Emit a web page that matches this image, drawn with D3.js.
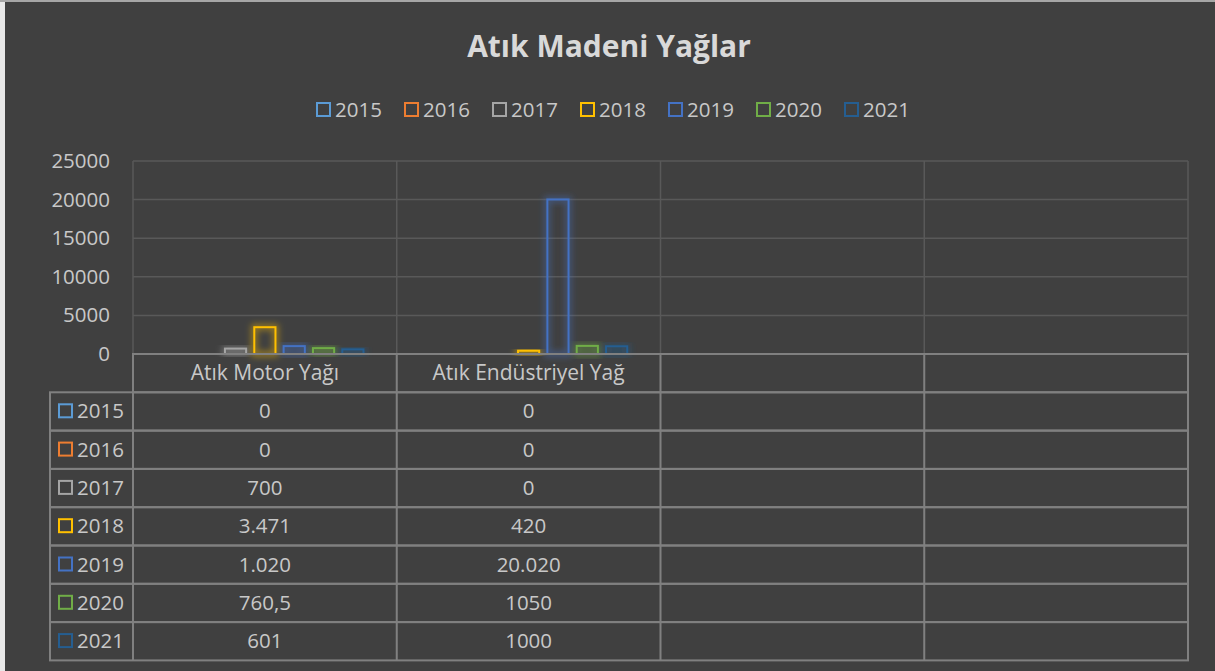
<!DOCTYPE html>
<html>
<head>
<meta charset="utf-8">
<script src="https://cdn.jsdelivr.net/npm/d3@7"></script>
<style>
  body { margin: 0; background: #e6e6e6; }
  svg text { font-family: "Open Sans", sans-serif; }
</style>
</head>
<body>
<svg id="chart" width="1215" height="671"></svg>
<script>
const categories = ["Atık Motor Yağı", "Atık Endüstriyel Yağ", "", ""];
const years = ["2015", "2016", "2017", "2018", "2019", "2020", "2021"];
const colors = ["#5B9BD5", "#ED7D31", "#A5A5A5", "#FFC000", "#4472C4", "#70AD47", "#255E91"];
// values per year, one entry per category
const motorValues = [0, 0, 700, 3471, 1020, 760.5, 601];
const endustriyelValues = [0, 0, 0, 420, 20020, 1050, 1000];
// how the table prints them
const motorLabels = ["0", "0", "700", "3.471", "1.020", "760,5", "601"];
const endustriyelLabels = ["0", "0", "0", "420", "20.020", "1050", "1000"];
const yTicks = [0, 5000, 10000, 15000, 20000, 25000];

const svg = d3.select("#chart");
const textColor = "#c8c8c8";
const gridColor = "#595959";
const tableColor = "#808080";
const fs = 20.5;

svg.append("rect").attr("x", 0).attr("y", 0).attr("width", 1215).attr("height", 671).attr("fill", "#a6a6a6");
svg.append("rect").attr("x", 0).attr("y", 2).attr("width", 5).attr("height", 669).attr("fill", "#e8e8e8");
svg.append("rect").attr("x", 5).attr("y", 2).attr("width", 1210).attr("height", 669).attr("fill", "#404040");

const defs = svg.append("defs");
defs.append("filter").attr("id", "glow")
  .attr("x", "-50%").attr("y", "-50%").attr("width", "200%").attr("height", "200%")
  .append("feGaussianBlur").attr("stdDeviation", 3);

// title
svg.append("text")
  .attr("x", 609).attr("y", 57)
  .attr("text-anchor", "middle")
  .attr("font-size", 30).attr("font-weight", "bold")
  .attr("fill", "#d9d9d9")
  .text("Atık Madeni Yağlar");

// legend
const legend = svg.append("g");
years.forEach(function (yr, i) {
  const lx = 317 + i * 88;
  legend.append("rect")
    .attr("x", lx).attr("y", 103).attr("width", 13).attr("height", 13)
    .attr("fill", "none").attr("stroke", colors[i]).attr("stroke-width", 2);
  legend.append("text")
    .attr("x", lx + 18).attr("y", 117)
    .attr("font-size", fs).attr("fill", textColor)
    .text(yr);
});

const plotLeft = 133, plotRight = 1188, plotTop = 161, plotBottom = 354;
const x0 = d3.scaleBand().domain(d3.range(categories.length)).range([plotLeft, plotRight]).padding(0);
const x1 = d3.scaleBand().domain(years).range([0, x0.bandwidth()]).paddingInner(0.21).paddingOuter(1.1);
const y = d3.scaleLinear().domain([0, 25000]).range([plotBottom, plotTop]);

// gridlines
const grid = svg.append("g");
grid.selectAll("line.h").data(yTicks).enter().append("line")
  .attr("x1", plotLeft).attr("x2", plotRight)
  .attr("y1", d => y(d)).attr("y2", d => y(d))
  .attr("stroke", gridColor).attr("stroke-width", 1.5);
grid.selectAll("line.v").data(d3.range(categories.length + 1)).enter().append("line")
  .attr("x1", d => plotLeft + d * x0.bandwidth()).attr("x2", d => plotLeft + d * x0.bandwidth())
  .attr("y1", plotTop).attr("y2", plotBottom)
  .attr("stroke", gridColor).attr("stroke-width", 1.5);

// y axis labels
const yAxis = svg.append("g").attr("transform", "translate(115,0)")
  .call(d3.axisLeft(y).tickValues(yTicks).tickSize(0).tickPadding(5).tickFormat(d3.format("d")));
yAxis.select(".domain").remove();
yAxis.selectAll("text").attr("font-size", fs).attr("fill", textColor).attr("font-family", "Open Sans, sans-serif");

// bars
const seriesByCat = [motorValues, endustriyelValues];
const bars = [];
seriesByCat.forEach(function (vals, ci) {
  vals.forEach(function (v, si) {
    if (v > 0) bars.push({ cat: ci, year: years[si], color: colors[si], value: v });
  });
});
const barG = svg.append("g");
barG.selectAll("rect.glow").data(bars).enter().append("rect")
  .attr("x", d => x0(d.cat) + x1(d.year) + 1)
  .attr("y", d => y(d.value))
  .attr("width", x1.bandwidth() - 2)
  .attr("height", d => plotBottom - y(d.value))
  .attr("fill", "none").attr("stroke", d => d.color)
  .attr("stroke-width", 6).attr("stroke-opacity", 0.45)
  .attr("filter", "url(#glow)");
barG.selectAll("rect.bar").data(bars).enter().append("rect")
  .attr("x", d => x0(d.cat) + x1(d.year) + 1)
  .attr("y", d => y(d.value))
  .attr("width", x1.bandwidth() - 2)
  .attr("height", d => plotBottom - y(d.value))
  .attr("fill", "none").attr("stroke", d => d.color).attr("stroke-width", 2);

// data table
const rowH = 38.3;
const tableLeft = 50;
const table = svg.append("g");
const tableLabels = [motorLabels, endustriyelLabels];

// header row
table.append("rect")
  .attr("x", plotLeft).attr("y", plotBottom).attr("width", plotRight - plotLeft).attr("height", rowH)
  .attr("fill", "none").attr("stroke", tableColor).attr("stroke-width", 2);
categories.forEach(function (c, ci) {
  table.append("text")
    .attr("x", x0(ci) + x0.bandwidth() / 2).attr("y", plotBottom + rowH / 2 + 7)
    .attr("text-anchor", "middle").attr("font-size", 21).attr("fill", textColor)
    .text(c);
});
years.forEach(function (yr, si) {
  const ry = plotBottom + rowH * (si + 1);
  table.append("rect")
    .attr("x", tableLeft).attr("y", ry).attr("width", plotRight - tableLeft).attr("height", rowH)
    .attr("fill", "none").attr("stroke", tableColor).attr("stroke-width", 2);
  table.append("rect")
    .attr("x", 59).attr("y", ry + 12).attr("width", 13).attr("height", 13)
    .attr("fill", "none").attr("stroke", colors[si]).attr("stroke-width", 2);
  table.append("text")
    .attr("x", 77).attr("y", ry + rowH / 2 + 7)
    .attr("font-size", fs).attr("fill", textColor)
    .text(yr);
  tableLabels.forEach(function (labels, ci) {
    table.append("text")
      .attr("x", x0(ci) + x0.bandwidth() / 2).attr("y", ry + rowH / 2 + 7)
      .attr("text-anchor", "middle").attr("font-size", fs).attr("fill", textColor)
      .text(labels[si]);
  });
});
// column separators
d3.range(categories.length + 1).forEach(function (d) {
  const xx = plotLeft + d * x0.bandwidth();
  table.append("line")
    .attr("x1", xx).attr("x2", xx).attr("y1", plotBottom).attr("y2", plotBottom + rowH * (years.length + 1))
    .attr("stroke", tableColor).attr("stroke-width", 2);
});
</script>
</body>
</html>
